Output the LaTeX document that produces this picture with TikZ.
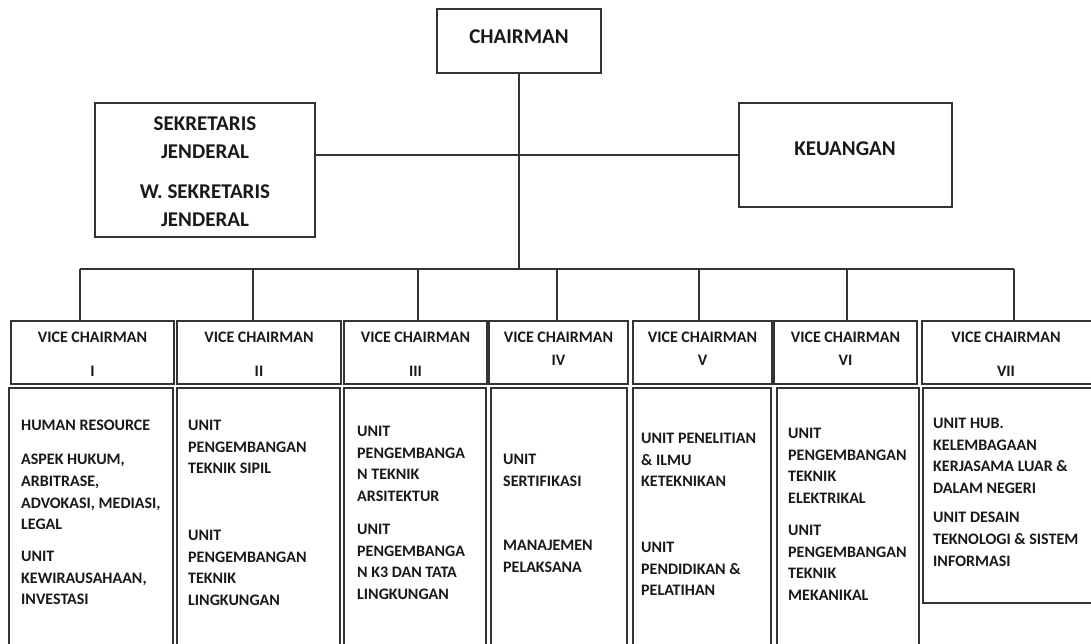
\documentclass[tikz,border=0pt]{standalone}
\usepackage{fontspec}
\setmainfont{Carlito}
\newcommand\obox[5]{\node[orgbox,minimum width=#4pt,minimum height=#5pt] (#1) at (#2,#3) {};}
\begin{document}
\begin{tikzpicture}[x=1pt,y=-1pt,
  line/.style={draw=black!80,line width=1.2pt},
  orgbox/.style={line,rectangle,inner sep=0pt,outer sep=0pt,anchor=north west},
  big/.style={font=\bfseries\fontsize{21}{28}\selectfont,text=black!90,inner sep=0pt,align=center},
  small/.style={font=\bfseries\fontsize{16}{21.7}\selectfont,text=black!90,inner sep=0pt},
  para/.style={small,align=left,anchor=north west},
  vct/.style={small,anchor=center}]
\useasboundingbox (0,0) rectangle (1091,644);
\clip (0,0) rectangle (1091,644);
\fill[white] (0,0) rectangle (1091,644);
% top boxes
\obox{ch}{437}{9}{164}{64}
\obox{sek}{95}{103}{220}{134}
\obox{keu}{739}{103}{213}{104}
% vice chairman boxes
\obox{vc1}{11}{321}{163}{63}
\obox{vc2}{177}{321}{164}{63}
\obox{vc3}{344}{321}{143}{63}
\obox{vc4}{489}{321}{139}{63}
\obox{vc5}{633}{321}{139}{63}
\obox{vc6}{774}{321}{143}{63}
\obox{vc7}{922}{321}{190}{63}
% unit boxes
\obox{u1}{9}{388}{164}{280}
\obox{u2}{177}{388}{163}{280}
\obox{u3}{344}{388}{142}{280}
\obox{u4}{491}{388}{136}{280}
\obox{u5}{633}{388}{138}{280}
\obox{u6}{777}{388}{142}{280}
\obox{u7}{923}{388}{190}{215}
% connectors
\coordinate (bc) at (519,269);
\coordinate (hub) at (519,155);
\coordinate (d1) at (80,269);
\coordinate (d2) at (253,269);
\coordinate (d3) at (418,269);
\coordinate (d4) at (557,269);
\coordinate (d5) at (699,269);
\coordinate (d6) at (847,269);
\coordinate (d7) at (1014,269);
\draw[line] (ch.south) -- (bc);
\draw[line] (sek.east |- hub) -- (keu.west |- hub);
\draw[line] (d1) -- (d7);
\foreach \i in {1,...,7}{\draw[line] (d\i) -- (d\i |- vc\i.north);}
% top texts
\node[big] (tch) at (519,37) {CHAIRMAN};
\node[big,anchor=north] (tsek1) at (205,117) {SEKRETARIS\\JENDERAL};
\node[big,anchor=north] (tsek2) at (205,185) {W. SEKRETARIS\\JENDERAL};
\node[big] (tkeu) at (845,149) {KEUANGAN};
% vice chairman texts
\node[vct] (v1a) at (vc1.center |- 0,337) {VICE CHAIRMAN};
\node[vct] (v1b) at (vc1.center |- 0,371) {I};
\node[vct] (v2a) at (vc2.center |- 0,337) {VICE CHAIRMAN};
\node[vct] (v2b) at (vc2.center |- 0,371) {II};
\node[vct] (v3a) at (vc3.center |- 0,337) {VICE CHAIRMAN};
\node[vct] (v3b) at (vc3.center |- 0,371) {III};
\node[vct] (v4a) at (vc4.center |- 0,337) {VICE CHAIRMAN};
\node[vct] (v4b) at (vc4.center |- 0,360) {IV};
\node[vct] (v5a) at (vc5.center |- 0,337) {VICE CHAIRMAN};
\node[vct] (v5b) at (vc5.center |- 0,360) {V};
\node[vct] (v6a) at (vc6.center |- 0,337) {VICE CHAIRMAN};
\node[vct] (v6b) at (vc6.center |- 0,360) {VI};
\node[vct] (v7a) at (1006,337) {VICE CHAIRMAN};
\node[vct] (v7b) at (1006,371) {VII};
% unit texts
\node[para] (p11) at (21,420) {HUMAN RESOURCE};
\node[para] (p12) at (21,454) {ASPEK HUKUM,\\ARBITRASE,\\ADVOKASI, MEDIASI,\\LEGAL};
\node[para] (p13) at (21,551) {UNIT\\KEWIRAUSAHAAN,\\INVESTASI};
\node[para] (p21) at (188,420) {UNIT\\PENGEMBANGAN\\TEKNIK SIPIL};
\node[para] (p22) at (188,530) {UNIT\\PENGEMBANGAN\\TEKNIK\\LINGKUNGAN};
\node[para] (p31) at (357,426) {UNIT\\PENGEMBANGA\\N TEKNIK\\ARSITEKTUR};
\node[para] (p32) at (357,524) {UNIT\\PENGEMBANGA\\N K3 DAN TATA\\LINGKUNGAN};
\node[para] (p41) at (503,454) {UNIT\\SERTIFIKASI};
\node[para] (p42) at (503,540) {MANAJEMEN\\PELAKSANA};
\node[para] (p51) at (641,433) {UNIT PENELITIAN\\\& ILMU\\KETEKNIKAN};
\node[para] (p52) at (641,542) {UNIT\\PENDIDIKAN \&\\PELATIHAN};
\node[para] (p61) at (788,428) {UNIT\\PENGEMBANGAN\\TEKNIK\\ELEKTRIKAL};
\node[para] (p62) at (788,525) {UNIT\\PENGEMBANGAN\\TEKNIK\\MEKANIKAL};
\node[para] (p71) at (933,418) {UNIT HUB.\\KELEMBAGAAN\\KERJASAMA LUAR \&\\DALAM NEGERI};
\node[para] (p72) at (933,512) {UNIT DESAIN\\TEKNOLOGI \& SISTEM\\INFORMASI};
\end{tikzpicture}
\end{document}
